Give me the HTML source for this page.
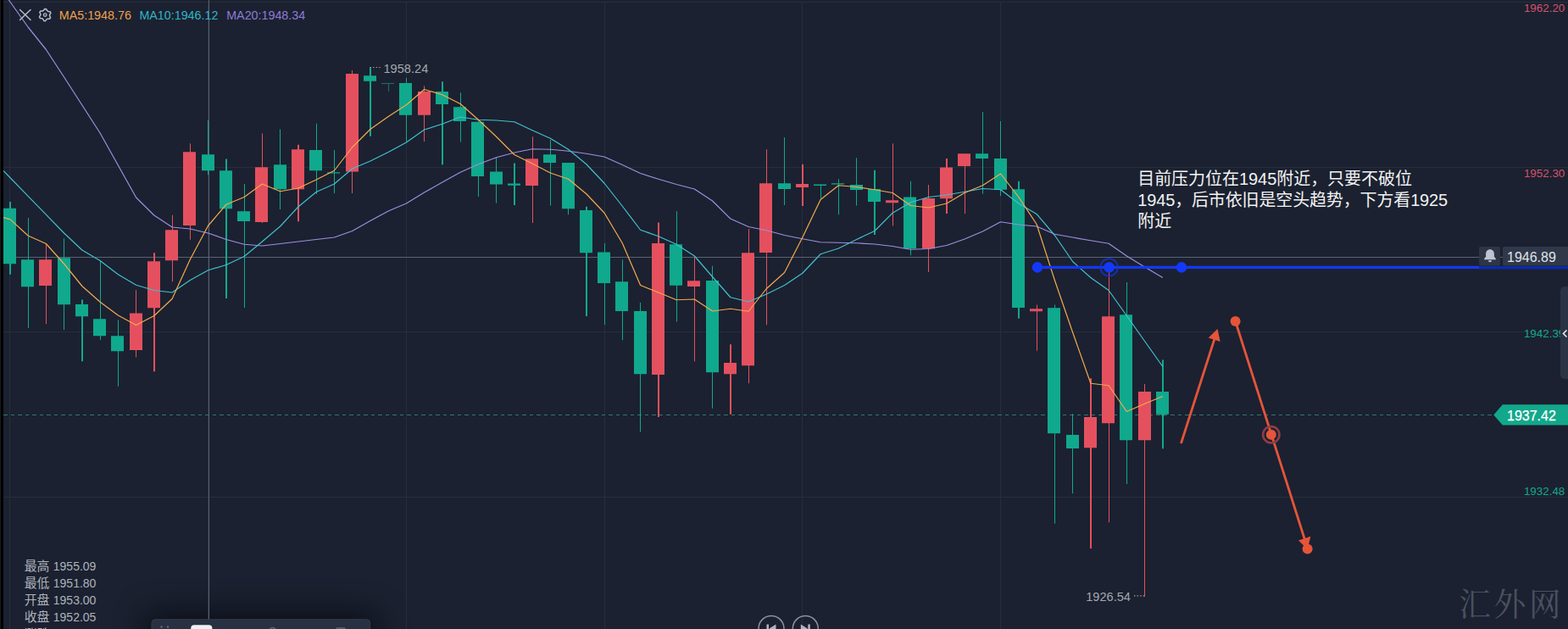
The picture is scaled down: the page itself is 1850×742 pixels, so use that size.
<!DOCTYPE html><html><head><meta charset="utf-8"><title>chart</title><style>html,body{margin:0;padding:0;background:#1b2130;overflow:hidden}body{width:1850px;height:742px;position:relative;font-family:"Liberation Sans",sans-serif}</style></head><body><div style="position:absolute;left:181px;top:733px;width:254px;height:30px;border-radius:4px;box-shadow:0 0 34px 10px rgba(3,5,10,0.62)"></div><svg width="1850" height="742" viewBox="0 0 1850 742" style="position:absolute;left:0;top:0;font-family:'Liberation Sans',sans-serif"><g stroke="#262e3c" stroke-width="1" shape-rendering="crispEdges"><line x1="4" x2="1850" y1="2.5" y2="2.5"/><line x1="4" x2="1850" y1="197.5" y2="197.5"/><line x1="4" x2="1850" y1="391.5" y2="391.5"/><line x1="4" x2="1850" y1="586.5" y2="586.5"/><line x1="11.5" x2="11.5" y1="3" y2="742"/><line x1="245.5" x2="245.5" y1="3" y2="742"/><line x1="479.5" x2="479.5" y1="3" y2="742"/><line x1="713.5" x2="713.5" y1="3" y2="742"/><line x1="946.5" x2="946.5" y1="3" y2="742"/><line x1="1180.5" x2="1180.5" y1="3" y2="742"/></g><g stroke="#5a6170" stroke-width="1" shape-rendering="crispEdges"><line x1="4" x2="1773" y1="303.5" y2="303.5"/><line x1="246.5" x2="246.5" y1="0" y2="742"/></g><line x1="4" x2="1763" y1="489.5" y2="489.5" stroke="#33776f" stroke-width="1" stroke-dasharray="4.5 4" shape-rendering="crispEdges"/><rect x="11" y="238.00" width="2" height="85.75" fill="#10a98d"/><rect x="4" y="245.75" width="15" height="65.50" fill="#10a98d"/><rect x="33" y="257.00" width="1" height="130.00" fill="#10a98d"/><rect x="25" y="306.25" width="15" height="32.00" fill="#10a98d"/><rect x="54" y="287.00" width="1" height="95.00" fill="#e5505f"/><rect x="46" y="306.25" width="15" height="30.75" fill="#e5505f"/><rect x="75" y="281.25" width="1" height="107.75" fill="#10a98d"/><rect x="68" y="304.25" width="15" height="55.00" fill="#10a98d"/><rect x="96" y="353.50" width="2" height="72.75" fill="#10a98d"/><rect x="89" y="359.00" width="15" height="14.25" fill="#10a98d"/><rect x="118" y="307.50" width="1" height="93.50" fill="#10a98d"/><rect x="110" y="376.25" width="15" height="20.00" fill="#10a98d"/><rect x="139" y="377.50" width="1" height="78.25" fill="#10a98d"/><rect x="131" y="396.25" width="15" height="18.00" fill="#10a98d"/><rect x="160" y="342.25" width="1" height="79.00" fill="#e5505f"/><rect x="153" y="369.50" width="15" height="43.50" fill="#e5505f"/><rect x="181" y="298.25" width="2" height="140.00" fill="#e5505f"/><rect x="174" y="308.25" width="15" height="55.00" fill="#e5505f"/><rect x="203" y="253.75" width="1" height="78.50" fill="#e5505f"/><rect x="195" y="271.25" width="15" height="36.00" fill="#e5505f"/><rect x="224" y="169.25" width="1" height="113.50" fill="#e5505f"/><rect x="216" y="179.25" width="15" height="86.75" fill="#e5505f"/><rect x="245" y="142.00" width="1" height="64.25" fill="#10a98d"/><rect x="238" y="182.25" width="15" height="19.00" fill="#10a98d"/><rect x="266" y="187.50" width="2" height="164.50" fill="#10a98d"/><rect x="259" y="201.25" width="15" height="45.00" fill="#10a98d"/><rect x="288" y="217.00" width="1" height="146.00" fill="#10a98d"/><rect x="280" y="249.25" width="15" height="11.75" fill="#10a98d"/><rect x="309" y="157.50" width="1" height="105.50" fill="#e5505f"/><rect x="301" y="197.25" width="15" height="64.75" fill="#e5505f"/><rect x="330" y="152.50" width="1" height="94.50" fill="#10a98d"/><rect x="323" y="194.25" width="15" height="29.00" fill="#10a98d"/><rect x="351" y="170.75" width="2" height="90.50" fill="#e5505f"/><rect x="344" y="176.25" width="15" height="47.00" fill="#e5505f"/><rect x="373" y="145.75" width="1" height="83.25" fill="#10a98d"/><rect x="365" y="177.00" width="15" height="24.25" fill="#10a98d"/><rect x="394" y="177.00" width="1" height="51.00" fill="#10a98d"/><rect x="386" y="203.25" width="15" height="1.25" fill="#10a98d"/><rect x="415" y="83.00" width="1" height="145.00" fill="#e5505f"/><rect x="408" y="87.00" width="15" height="115.50" fill="#e5505f"/><rect x="436" y="79.50" width="2" height="81.25" fill="#10a98d"/><rect x="429" y="89.25" width="15" height="6.50" fill="#10a98d"/><rect x="458" y="98.00" width="1" height="10.00" fill="#1c6f67"/><rect x="450" y="98.00" width="15" height="1.00" fill="#1c6f67"/><rect x="479" y="92.00" width="1" height="75.50" fill="#10a98d"/><rect x="471" y="98.00" width="15" height="37.75" fill="#10a98d"/><rect x="500" y="101.25" width="1" height="65.75" fill="#e5505f"/><rect x="493" y="108.00" width="15" height="27.75" fill="#e5505f"/><rect x="521" y="96.25" width="2" height="98.00" fill="#10a98d"/><rect x="514" y="108.00" width="15" height="15.00" fill="#10a98d"/><rect x="543" y="109.25" width="1" height="58.25" fill="#10a98d"/><rect x="535" y="126.25" width="15" height="16.75" fill="#10a98d"/><rect x="564" y="142.50" width="1" height="89.50" fill="#10a98d"/><rect x="556" y="143.75" width="15" height="64.25" fill="#10a98d"/><rect x="585" y="185.75" width="1" height="53.75" fill="#10a98d"/><rect x="578" y="202.50" width="15" height="15.00" fill="#10a98d"/><rect x="606" y="192.50" width="2" height="49.50" fill="#10a98d"/><rect x="599" y="216.50" width="15" height="2.25" fill="#10a98d"/><rect x="628" y="161.25" width="1" height="101.75" fill="#e5505f"/><rect x="620" y="187.25" width="15" height="31.75" fill="#e5505f"/><rect x="649" y="165.00" width="1" height="77.50" fill="#10a98d"/><rect x="641" y="182.25" width="15" height="9.75" fill="#10a98d"/><rect x="670" y="192.00" width="1" height="61.25" fill="#10a98d"/><rect x="663" y="192.00" width="15" height="54.25" fill="#10a98d"/><rect x="691" y="243.75" width="2" height="129.25" fill="#10a98d"/><rect x="684" y="248.00" width="15" height="50.25" fill="#10a98d"/><rect x="713" y="287.00" width="1" height="96.00" fill="#10a98d"/><rect x="705" y="297.50" width="15" height="36.50" fill="#10a98d"/><rect x="734" y="306.25" width="1" height="95.00" fill="#10a98d"/><rect x="726" y="332.25" width="15" height="34.75" fill="#10a98d"/><rect x="755" y="357.00" width="1" height="152.50" fill="#10a98d"/><rect x="748" y="367.00" width="15" height="74.25" fill="#10a98d"/><rect x="776" y="262.50" width="2" height="229.50" fill="#e5505f"/><rect x="769" y="287.00" width="15" height="155.00" fill="#e5505f"/><rect x="798" y="249.25" width="1" height="130.25" fill="#10a98d"/><rect x="790" y="288.25" width="15" height="48.50" fill="#10a98d"/><rect x="819" y="303.75" width="1" height="122.50" fill="#e5505f"/><rect x="811" y="331.25" width="15" height="6.75" fill="#e5505f"/><rect x="840" y="313.75" width="1" height="168.00" fill="#10a98d"/><rect x="833" y="331.00" width="15" height="108.25" fill="#10a98d"/><rect x="861" y="406.25" width="2" height="82.50" fill="#e5505f"/><rect x="854" y="428.00" width="15" height="13.25" fill="#e5505f"/><rect x="883" y="270.00" width="1" height="182.25" fill="#e5505f"/><rect x="875" y="298.25" width="15" height="133.00" fill="#e5505f"/><rect x="904" y="176.25" width="1" height="207.00" fill="#e5505f"/><rect x="896" y="216.25" width="15" height="81.75" fill="#e5505f"/><rect x="925" y="162.00" width="1" height="80.00" fill="#10a98d"/><rect x="918" y="216.25" width="15" height="6.75" fill="#10a98d"/><rect x="946" y="193.75" width="2" height="49.25" fill="#e5505f"/><rect x="939" y="217.00" width="15" height="4.00" fill="#e5505f"/><rect x="968" y="217.50" width="1" height="16.25" fill="#10a98d"/><rect x="960" y="217.50" width="15" height="1.50" fill="#10a98d"/><rect x="989" y="211.25" width="1" height="42.00" fill="#10a98d"/><rect x="981" y="216.25" width="15" height="1.25" fill="#10a98d"/><rect x="1010" y="186.25" width="1" height="56.25" fill="#10a98d"/><rect x="1003" y="218.00" width="15" height="6.00" fill="#10a98d"/><rect x="1031" y="200.75" width="2" height="76.25" fill="#10a98d"/><rect x="1024" y="223.00" width="15" height="15.00" fill="#10a98d"/><rect x="1053" y="169.25" width="1" height="97.25" fill="#e5505f"/><rect x="1045" y="236.25" width="15" height="3.00" fill="#e5505f"/><rect x="1074" y="213.75" width="1" height="87.50" fill="#10a98d"/><rect x="1066" y="232.50" width="15" height="60.75" fill="#10a98d"/><rect x="1095" y="218.00" width="1" height="103.00" fill="#e5505f"/><rect x="1088" y="234.00" width="15" height="59.25" fill="#e5505f"/><rect x="1116" y="187.00" width="2" height="65.00" fill="#e5505f"/><rect x="1109" y="197.50" width="15" height="36.75" fill="#e5505f"/><rect x="1138" y="181.25" width="1" height="70.75" fill="#e5505f"/><rect x="1130" y="181.25" width="15" height="14.75" fill="#e5505f"/><rect x="1159" y="132.00" width="1" height="96.75" fill="#10a98d"/><rect x="1151" y="181.25" width="15" height="5.75" fill="#10a98d"/><rect x="1180" y="143.00" width="1" height="88.25" fill="#10a98d"/><rect x="1173" y="187.00" width="15" height="36.75" fill="#10a98d"/><rect x="1201" y="213.75" width="2" height="162.00" fill="#10a98d"/><rect x="1194" y="223.25" width="15" height="139.75" fill="#10a98d"/><rect x="1223" y="359.50" width="1" height="54.25" fill="#e5505f"/><rect x="1215" y="364.25" width="15" height="3.00" fill="#e5505f"/><rect x="1244" y="359.50" width="1" height="258.25" fill="#10a98d"/><rect x="1236" y="363.25" width="15" height="148.00" fill="#10a98d"/><rect x="1265" y="488.25" width="1" height="94.00" fill="#10a98d"/><rect x="1258" y="513.00" width="15" height="16.00" fill="#10a98d"/><rect x="1286" y="446.25" width="2" height="200.75" fill="#e5505f"/><rect x="1279" y="492.00" width="15" height="36.25" fill="#e5505f"/><rect x="1308" y="321.00" width="1" height="295.25" fill="#e5505f"/><rect x="1300" y="373.25" width="15" height="126.00" fill="#e5505f"/><rect x="1329" y="333.00" width="1" height="238.00" fill="#10a98d"/><rect x="1321" y="371.25" width="15" height="148.00" fill="#10a98d"/><rect x="1350" y="453.00" width="1" height="250.75" fill="#e5505f"/><rect x="1343" y="462.00" width="15" height="57.25" fill="#e5505f"/><rect x="1371" y="424.50" width="2" height="104.75" fill="#10a98d"/><rect x="1364" y="462.00" width="15" height="26.75" fill="#10a98d"/><polyline points="4.00,-9.08 11.85,2.00 33.10,32.00 54.35,58.50 75.60,91.00 96.85,124.00 118.10,157.00 139.35,195.00 160.60,233.00 181.85,254.00 203.10,268.00 224.35,270.00 245.60,275.00 266.85,282.50 288.10,288.25 309.35,290.00 330.60,287.50 351.85,285.00 373.10,282.50 394.35,280.00 415.60,272.50 436.85,260.50 458.10,249.00 479.35,240.00 500.60,227.00 521.85,215.00 543.10,203.25 564.35,193.75 585.60,185.75 606.85,180.00 628.10,175.75 649.35,176.25 670.60,178.25 691.85,181.25 713.10,185.00 734.35,194.50 755.60,204.50 776.85,211.25 798.10,217.50 819.35,223.00 840.60,237.00 861.85,258.00 883.10,267.50 904.35,271.75 925.60,277.50 946.85,281.75 968.10,285.75 989.35,286.25 1010.60,286.75 1031.85,288.00 1053.10,290.50 1074.35,294.25 1095.60,293.50 1116.85,289.50 1138.10,282.00 1159.35,273.00 1180.60,261.75 1201.85,265.00 1223.10,267.00 1244.35,276.25 1265.60,280.00 1286.85,283.75 1308.10,287.25 1329.35,302.00 1350.60,315.00 1371.85,327.50" fill="none" stroke="#9f8ee0" stroke-width="1.2" stroke-linejoin="round"/><polyline points="4.00,201.45 11.85,209.50 33.10,231.30 54.35,253.20 75.60,275.00 96.85,295.00 118.10,307.50 139.35,323.75 160.60,336.25 181.85,342.50 203.10,345.00 224.35,330.50 245.60,318.75 266.85,312.50 288.10,302.50 309.35,285.00 330.60,267.00 351.85,244.00 373.10,226.50 394.35,217.00 415.60,199.00 436.85,190.00 458.10,179.50 479.35,168.00 500.60,153.00 521.85,146.25 543.10,138.00 564.35,141.25 585.60,142.00 606.85,143.75 628.10,153.75 649.35,163.25 670.60,176.25 691.85,193.75 713.10,216.25 734.35,243.25 755.60,271.25 776.85,278.75 798.10,288.25 819.35,302.00 840.60,326.50 861.85,350.75 883.10,356.00 904.35,347.00 925.60,336.50 946.85,322.25 968.10,299.75 989.35,293.00 1010.60,282.50 1031.85,272.50 1053.10,251.25 1074.35,238.75 1095.60,232.50 1116.85,230.00 1138.10,226.25 1159.35,222.50 1180.60,223.75 1201.85,240.00 1223.10,252.50 1244.35,277.50 1265.60,308.50 1286.85,327.50 1308.10,342.50 1329.35,372.50 1350.60,402.50 1371.85,432.50" fill="none" stroke="#42c0d0" stroke-width="1.2" stroke-linejoin="round"/><polyline points="4.00,256.60 11.85,258.60 33.10,278.00 54.35,287.50 75.60,311.25 96.85,337.50 118.10,356.25 139.35,372.00 160.60,383.50 181.85,372.50 203.10,352.50 224.35,306.00 245.60,266.25 266.85,241.25 288.10,232.50 309.35,217.00 330.60,225.75 351.85,222.00 373.10,212.00 394.35,201.25 415.60,173.75 436.85,152.50 458.10,137.50 479.35,123.75 500.60,105.50 521.85,111.75 543.10,122.50 564.35,141.25 585.60,161.25 606.85,182.50 628.10,193.00 649.35,204.00 670.60,211.25 691.85,228.75 713.10,251.25 734.35,287.00 755.60,336.50 776.85,345.00 798.10,353.75 819.35,353.00 840.60,367.00 861.85,364.25 883.10,367.25 904.35,340.50 925.60,321.50 946.85,280.00 968.10,235.50 989.35,218.75 1010.60,220.50 1031.85,223.75 1053.10,227.50 1074.35,242.50 1095.60,245.00 1116.85,240.00 1138.10,227.50 1159.35,218.75 1180.60,205.00 1201.85,232.50 1223.10,264.50 1244.35,330.50 1265.60,392.00 1286.85,452.25 1308.10,454.75 1329.35,485.50 1350.60,476.25 1371.85,467.50" fill="none" stroke="#f5a950" stroke-width="1.2" stroke-linejoin="round"/><g fill="#a4a8b1" font-size="14.6px"><text x="452.5" y="85.5">1958.24</text><text x="1281.2" y="708.9">1926.54</text></g><g stroke="#a4a8b1" stroke-width="1.2" stroke-dasharray="1.4 2.2"><line x1="436.5" x2="449.5" y1="79.5" y2="79.5"/><line x1="1338" x2="1351" y1="702.9" y2="702.9"/></g><line x1="1224" x2="1745" y1="315.4" y2="315.4" stroke="#1438fb" stroke-width="3.2"/><line x1="1745" x2="1850" y1="315.8" y2="315.8" stroke="#0d2bab" stroke-width="3.6"/><circle cx="1224" cy="315.4" r="6.3" fill="#1438fb"/><circle cx="1308.6" cy="315.4" r="10.2" fill="none" stroke="#1533cc" stroke-width="1.8" opacity="0.85"/><circle cx="1308.6" cy="315.4" r="6.3" fill="#1438fb"/><circle cx="1394" cy="315.4" r="6.3" fill="#1438fb"/><g stroke="#e6543a" stroke-width="2.8" stroke-linecap="round" fill="none"><line x1="1393.8" y1="522" x2="1433.5" y2="398"/><line x1="1457.6" y1="379" x2="1541.5" y2="643"/></g><polygon points="1436.5,388 1425.7,398.4 1439.7,403.1" fill="#e6543a"/><polygon points="1542.6,648 1532,637.6 1546.4,632.7" fill="#e6543a"/><circle cx="1457.6" cy="379" r="6" fill="#e6543a"/><circle cx="1499.8" cy="512.8" r="9.7" fill="none" stroke="#8e3e44" stroke-width="2.6"/><circle cx="1499.8" cy="512.8" r="6" fill="#e6543a"/><circle cx="1542.6" cy="647.5" r="6" fill="#e6543a"/><g fill="#f2f2f2" font-size="20px" font-family="'Liberation Sans','Noto Sans CJK SC',sans-serif"><text x="1342.2" y="217.8" textLength="323.7" lengthAdjust="spacing">目前压力位在1945附近，只要不破位</text><text x="1342.2" y="243.2" textLength="366" lengthAdjust="spacing">1945，后市依旧是空头趋势，下方看1925</text><text x="1342.2" y="267.8">附近</text></g><g fill="#aeb3bd" font-family="'Liberation Sans','Noto Sans CJK SC',sans-serif"><text x="28.7" y="672.9" font-size="14.9px">最高</text><text x="62.8" y="672.9" font-size="14px">1955.09</text><text x="28.7" y="692.9" font-size="14.9px">最低</text><text x="62.8" y="692.9" font-size="14px">1951.80</text><text x="28.7" y="713" font-size="14.9px">开盘</text><text x="62.8" y="713" font-size="14px">1953.00</text><text x="28.7" y="733" font-size="14.9px">收盘</text><text x="62.8" y="733" font-size="14px">1952.05</text><text x="28.7" y="753" font-size="14.9px">涨跌</text><text x="62.8" y="753" font-size="14px">0.00</text></g><g fill="#495160" font-size="37.5px" font-family="'Liberation Serif','Noto Serif CJK SC',serif"><text x="1721.3" y="725.6">汇</text><text x="1762.7" y="725.6">外</text><text x="1804.1" y="725.6">网</text></g><g stroke="#b6bccb" stroke-width="1.5" stroke-linecap="round"><line x1="23.5" y1="11.5" x2="36" y2="23.5"/><line x1="36" y1="11.5" x2="23.5" y2="23.5"/></g><polygon points="52.74,10.52 54.59,10.64 55.63,12.67 56.83,13.46 59.10,13.66 59.92,15.32 58.69,17.24 58.59,18.67 59.57,20.74 58.54,22.28 56.26,22.17 54.97,22.81 53.66,24.68 51.81,24.56 50.77,22.53 49.57,21.74 47.30,21.54 46.48,19.88 47.71,17.96 47.81,16.53 46.83,14.46 47.86,12.92 50.14,13.03 51.43,12.39" fill="none" stroke="#b6bccb" stroke-width="1.5" stroke-linejoin="round"/><circle cx="53.2" cy="17.6" r="1.8" fill="none" stroke="#b6bccb" stroke-width="1.3"/><g font-size="14.3px"><text x="69.8" y="22.6" fill="#f0a04b">MA5:1948.76</text><text x="164.4" y="22.6" fill="#2fb4c6">MA10:1946.12</text><text x="267.2" y="22.6" fill="#8f7ad6">MA20:1948.34</text></g><g font-size="13.4px" text-anchor="end"><text x="1846.3" y="13.8" fill="#d9506a">1962.20</text><text x="1846.3" y="209" fill="#d9506a">1952.30</text><text x="1846.3" y="398.2" fill="#14a88c">1942.39</text><text x="1846.3" y="583.9" fill="#14a88c">1932.48</text></g><rect x="1841" y="338" width="20" height="109" rx="5" fill="#2b3444"/><polyline points="1848.5,389.5 1844.5,393.5 1848.5,397.5" fill="none" stroke="#e8eaee" stroke-width="1.6"/><rect x="1745" y="291" width="25" height="22.5" rx="2" fill="#2d3646"/><rect x="1773" y="291" width="90" height="22.5" rx="2" fill="#2f394a"/><path d="M1758 294.2c-3 0-4.9 2.3-4.9 5.2v3.3l-2 2.6v0.9h13.8v-0.9l-2-2.6v-3.3c0-2.9-1.9-5.2-4.9-5.2z M1755.9 307.2a2.1 2.1 0 0 0 4.2 0z" fill="#c0c3d0"/><text x="1778" y="309.4" font-size="16px" fill="#e0e3e9">1946.89</text><polygon points="1762.3,489.4 1772.8,477.3 1850,477.3 1850,501.5 1772.8,501.5" fill="#12a88c"/><text x="1778" y="495.5" font-size="16px" fill="#ffffff" stroke="#ffffff" stroke-width="0.25">1937.42</text><polygon points="1368.5,487 1375.5,487 1372,492.5" fill="#10a98d"/><rect x="179" y="730.8" width="257.7" height="30" rx="4" fill="#283142" stroke="#323c4e" stroke-width="1"/><g fill="#5d6678"><circle cx="190.5" cy="739.5" r="1.3"/><circle cx="198" cy="739.5" r="1.3"/></g><rect x="225.2" y="737.3" width="25.2" height="20" rx="4" fill="#eef0f3"/><circle cx="321.7" cy="744.5" r="4" fill="none" stroke="#5d6678" stroke-width="1.5"/><rect x="397" y="741" width="10" height="6" rx="1" fill="none" stroke="#5d6678" stroke-width="1.5"/><circle cx="910.0" cy="741.5" r="15" fill="none" stroke="#8b92a2" stroke-width="1.5"/><circle cx="950.3" cy="741.5" r="15" fill="none" stroke="#8b92a2" stroke-width="1.5"/><path d="M904.5 736.5h2.5v10h-2.5z M915.5 736.5v10l-8-5z" fill="#aeb3c0"/><path d="M955.8 736.5h-2.5v10h2.5z M944.8 736.5v10l8-5z" fill="#aeb3c0"/><rect x="0" y="0" width="4" height="742" fill="#000"/><rect x="0" y="0" width="1" height="742" fill="#171b1d"/></svg></body></html>
